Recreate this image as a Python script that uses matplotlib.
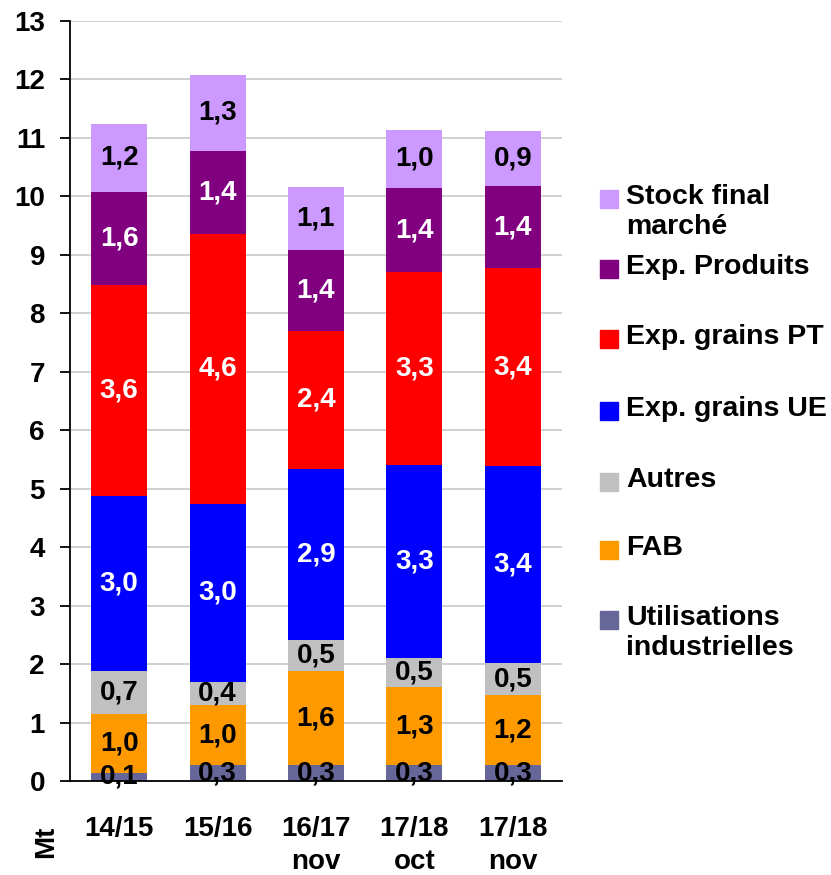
import matplotlib.pyplot as plt
from matplotlib.patches import Rectangle

plt.rcParams['font.family'] = ['Liberation Sans', 'DejaVu Sans']
plt.rcParams['font.weight'] = 'bold'

# Données (Mt)
campagnes = ["14/15", "15/16", "16/17\nnov", "17/18\noct", "17/18\nnov"]
util_indus = [0.14, 0.27, 0.27, 0.27, 0.27]
fab = [1.01, 1.03, 1.61, 1.34, 1.20]
autres = [0.74, 0.40, 0.53, 0.49, 0.54]
exp_ue = [2.99, 3.04, 2.93, 3.31, 3.37]
exp_pt = [3.61, 4.62, 2.36, 3.30, 3.39]
exp_produits = [1.59, 1.42, 1.38, 1.43, 1.40]
stock_final = [1.16, 1.30, 1.08, 1.00, 0.94]

series = [
    ("Utilisations\nindustrielles", util_indus, "#666699", "black"),
    ("FAB", fab, "#FF9900", "black"),
    ("Autres", autres, "#C0C0C0", "black"),
    ("Exp. grains UE", exp_ue, "#0000FF", "white"),
    ("Exp. grains PT", exp_pt, "#FF0000", "white"),
    ("Exp. Produits", exp_produits, "#800080", "white"),
    ("Stock final\nmarché", stock_final, "#CC99FF", "black"),
]

fig = plt.figure(figsize=(8.31, 8.75), dpi=100)
ax = fig.add_axes([70 / 831, 1 - 781 / 875, 492 / 831, 760 / 875])

x = range(len(campagnes))
bottom = [0.0] * len(campagnes)
for nom, vals, couleur, coul_txt in series:
    bars = ax.bar(x, vals, width=0.57, bottom=bottom, color=couleur, zorder=2)
    labels = [f"{v:.1f}".replace(".", ",") for v in vals]
    ax.bar_label(bars, labels=labels, label_type="center", color=coul_txt,
                 fontsize=20, fontweight="bold")
    bottom = [b + v for b, v in zip(bottom, vals)]

ax.set_xlim(-0.5, len(campagnes) - 0.5)
ax.set_ylim(0, 13)
ax.set_yticks(range(0, 14))
ax.yaxis.grid(True, color="#C8C8C8", linewidth=1.2, zorder=0)
ax.set_axisbelow(True)
for s in ["top", "right"]:
    ax.spines[s].set_visible(False)
ax.spines["left"].set_linewidth(1.3)
ax.spines["bottom"].set_linewidth(1.3)
ax.tick_params(axis="y", length=7, width=1.3, pad=11, labelsize=20)
ax.tick_params(axis="x", length=0, pad=25, labelsize=20)
ax.set_xticks(list(x))
ax.set_xticklabels(campagnes, fontweight="bold", linespacing=1.35, va="top")
for t in ax.get_yticklabels():
    t.set_fontweight("bold")

fig.text(46 / 831, 1 - 842 / 875, "Mt", rotation=90, fontsize=20,
         fontweight="bold", ha="center", va="center")

# Légende
leg_y = [199, 269, 339, 411, 482, 550, 620]
for (nom, vals, couleur, _), yy in zip(reversed(series), leg_y):
    fig.patches.append(Rectangle((600 / 831, 1 - (yy + 9) / 875), 18 / 831, 18 / 875,
                                 transform=fig.transFigure, color=couleur))
    fig.text(626 / 831, 1 - (yy - 15) / 875, nom, fontsize=20.5, fontweight="bold",
             ha="left", va="top", linespacing=1.2)

fig.savefig("out.png", dpi=100)
